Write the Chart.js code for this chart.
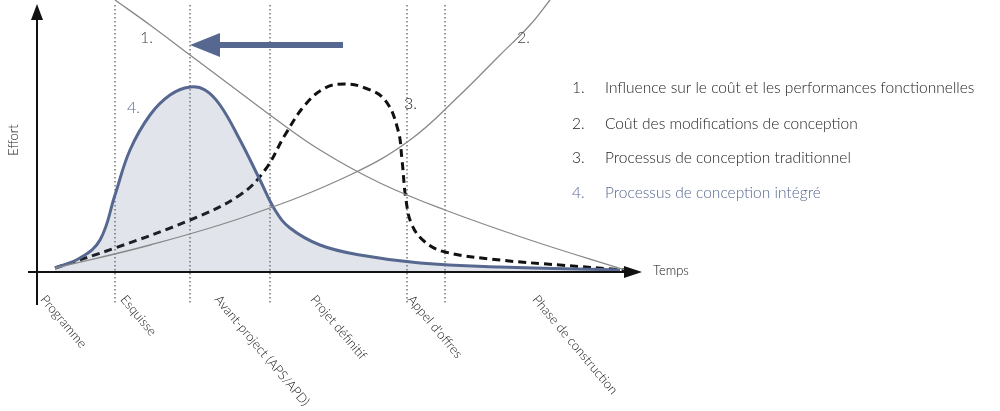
<!DOCTYPE html>
<html>
<head>
<meta charset="utf-8">
<script src="https://cdn.jsdelivr.net/npm/chart.js@4"></script>
<style>
  html, body { margin: 0; padding: 0; background: #fff; }
  #wrap { width: 1000px; height: 411px; position: relative; }
</style>
</head>
<body>
<div id="wrap"><canvas id="chart" width="1000" height="411"></canvas></div>
<script>
// Curves in chart units: x = time (0..603), y = effort (0..272)
const integrated = [[18,4],[43,14],[63,32],[78,77],[93,122],[113,157],[133,177],[153,185],[168,182],[183,167],[203,132],[223,92],[238,62],[253,44],[283,27],[323,17],[383,9],[463,5],[583,2]];
const traditional = [[18,4],[78,24],[153,52],[203,77],[228,102],[248,137],[268,167],[288,184],[308,188],[328,184],[348,172],[361,142],[365,112],[369,72],[375,47],[388,30],[408,20],[463,12],[523,7],[588,2]];
const influence = [[78,272],[113,247],[153,217],[193,187],[233,157],[283,122],[343,89],[408,62],[493,32],[588,2]];
const modCost = [[18,4],[113,27],[213,57],[313,97],[373,132],[423,177],[463,217],[493,247],[513,272]];

const phases = ['Programme', 'Esquisse', 'Avant-project (APS/APD)', 'Projet définitif', 'Appel d\'offres', 'Phase de construction'];
const phaseLabelX = [48, 128, 222, 318, 415, 540];
const dividerX = [78, 153, 233, 370, 408];
const legendItems = ['Influence sur le coût et les performances fonctionnelles', 'Coût des modifications de conception', 'Processus de conception traditionnel', 'Processus de conception intégré'];

const BLUE = '#56688f';
const toPts = arr => arr.map(p => ({ x: p[0], y: p[1] }));

const decor = {
  id: 'decor',
  beforeDatasetsDraw(chart) {
    const { ctx, scales: { x } } = chart;
    ctx.save();
    ctx.strokeStyle = '#333';
    ctx.lineWidth = 1;
    ctx.setLineDash([1.5, 2.5]);
    dividerX.forEach(v => {
      const px = x.getPixelForValue(v);
      ctx.beginPath(); ctx.moveTo(px, 5); ctx.lineTo(px, 305); ctx.stroke();
    });
    ctx.restore();
  },
  afterDatasetsDraw(chart) {
    const { ctx, scales: { x, y } } = chart;
    const ox = x.getPixelForValue(0), oy = y.getPixelForValue(0);
    ctx.save();
    ctx.strokeStyle = '#111'; ctx.fillStyle = '#111'; ctx.lineWidth = 2;
    // y axis
    ctx.beginPath(); ctx.moveTo(ox, 305); ctx.lineTo(ox, 14); ctx.stroke();
    ctx.beginPath(); ctx.moveTo(ox, 4); ctx.lineTo(ox - 6, 20); ctx.lineTo(ox + 6, 20); ctx.closePath(); ctx.fill();
    // x axis
    ctx.beginPath(); ctx.moveTo(28, oy); ctx.lineTo(630, oy); ctx.stroke();
    ctx.beginPath(); ctx.moveTo(642, oy); ctx.lineTo(624, oy - 6); ctx.lineTo(624, oy + 6); ctx.closePath(); ctx.fill();
    // big arrow
    ctx.strokeStyle = BLUE; ctx.fillStyle = BLUE; ctx.lineWidth = 6;
    ctx.beginPath(); ctx.moveTo(343, 45); ctx.lineTo(215, 45); ctx.stroke();
    ctx.beginPath(); ctx.moveTo(190, 45); ctx.lineTo(220, 33); ctx.lineTo(220, 57); ctx.closePath(); ctx.fill();
    // texts
    ctx.font = '300 16px Lato';
    ctx.fillStyle = '#444';
    ctx.textBaseline = 'middle';
    ctx.fillText('1.', 140, 38);
    ctx.fillText('2.', 517, 38);
    ctx.fillStyle = '#222';
    ctx.fillText('3.', 404, 104);
    ctx.fillStyle = BLUE;
    ctx.fillText('4.', 127, 108);
    ctx.font = '300 15.5px Lato';
    legendItems.forEach((t, i) => {
      const yy = [88, 124, 158, 193][i];
      ctx.fillStyle = i === 3 ? BLUE : '#222';
      ctx.fillText((i + 1) + '.', 572, yy);
      ctx.fillText(t, 605, yy);
    });
    ctx.fillStyle = '#111';
    ctx.font = '300 13px Lato';
    ctx.fillText('Temps', 653, 271);
    ctx.save(); ctx.translate(14, 140); ctx.rotate(-Math.PI / 2);
    ctx.textAlign = 'center'; ctx.fillText('Effort', 0, 0); ctx.restore();
    ctx.textBaseline = 'top';
    phases.forEach((p, i) => {
      ctx.save(); ctx.translate(phaseLabelX[i], 293); ctx.rotate(50 * Math.PI / 180);
      ctx.fillText(p, 0, 0); ctx.restore();
    });
    ctx.restore();
  }
};

new Chart(document.getElementById('chart'), {
  type: 'scatter',
  data: {
    datasets: [
      { data: toPts(influence), showLine: true, borderColor: '#888', borderWidth: 1.3, pointRadius: 0, tension: 0.4, fill: false },
      { data: toPts(modCost), showLine: true, borderColor: '#888', borderWidth: 1.3, pointRadius: 0, tension: 0.4, fill: false },
      { data: toPts(integrated), showLine: true, borderColor: BLUE, borderWidth: 3, pointRadius: 0, tension: 0.4, fill: 'origin', backgroundColor: 'rgba(86,104,143,0.18)' },
      { data: toPts(traditional), showLine: true, borderColor: '#111', borderWidth: 3, borderDash: [8, 5], pointRadius: 0, tension: 0.4, fill: false }
    ]
  },
  options: {
    responsive: false,
    animation: false,
    layout: { padding: { left: 37, right: 360, top: 0, bottom: 139 } },
    scales: {
      x: { type: 'linear', min: 0, max: 603, display: false },
      y: { type: 'linear', min: 0, max: 272, display: false }
    },
    plugins: { legend: { display: false }, tooltip: { enabled: false } }
  },
  plugins: [decor]
});
</script>
</body>
</html>
